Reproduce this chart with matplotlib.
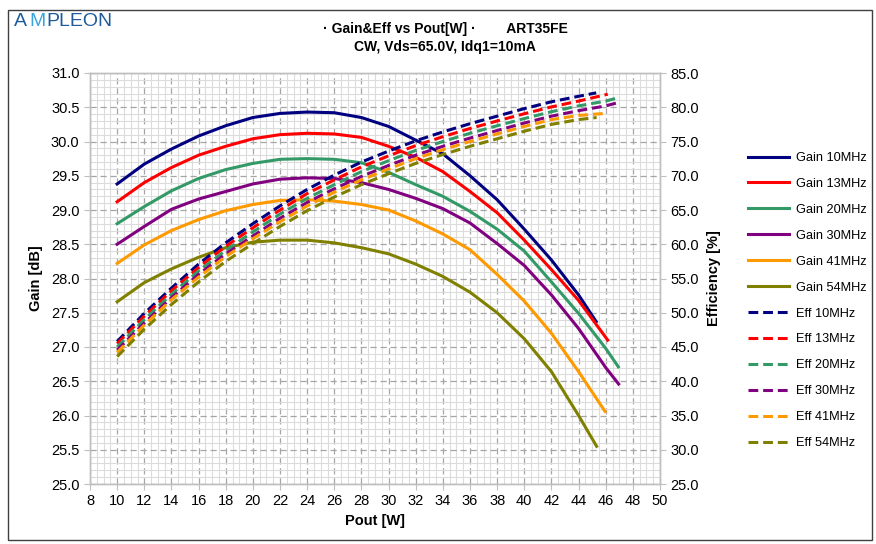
import numpy as np
import matplotlib.pyplot as plt
from matplotlib.patches import Rectangle
from matplotlib.ticker import MultipleLocator, FormatStrFormatter

plt.rcParams['font.family'] = ['Liberation Sans', 'DejaVu Sans']

# ---- data (Pout [W] vs Gain [dB] / Efficiency [%]) ----
pout_10 = [10, 12, 14, 16, 18, 20, 22, 24, 26, 28, 30, 32, 34, 36, 38, 40, 42, 44, 45.3]
gain_10 = [29.38, 29.67, 29.89, 30.08, 30.23, 30.35, 30.41, 30.43, 30.42, 30.35, 30.22, 30.02,
           29.82, 29.50, 29.15, 28.72, 28.27, 27.76, 27.37]
eff_10 = [45.8, 49.9, 53.6, 57.1, 60.2, 63.0, 65.6, 68.0, 70.1, 72.0, 73.6, 75.1,
          76.4, 77.6, 78.7, 79.8, 80.8, 81.6, 82.1]

pout_13 = [10, 12, 14, 16, 18, 20, 22, 24, 26, 28, 30, 32, 34, 36, 38, 40, 42, 44, 46.15]
gain_13 = [29.12, 29.40, 29.62, 29.80, 29.93, 30.04, 30.10, 30.12, 30.11, 30.06, 29.93, 29.77,
           29.56, 29.27, 28.96, 28.56, 28.13, 27.68, 27.10]
eff_13 = [45.5, 49.5, 53.2, 56.6, 59.7, 62.4, 65.0, 67.4, 69.4, 71.3, 72.9, 74.4,
          75.7, 76.9, 78.0, 79.05, 80.05, 80.9, 81.9]

pout_20 = [10, 12, 14, 16, 18, 20, 22, 24, 26, 28, 30, 32, 34, 36, 38, 40, 42, 44, 46, 46.93]
gain_20 = [28.80, 29.05, 29.28, 29.46, 29.59, 29.68, 29.74, 29.75, 29.74, 29.69, 29.55, 29.37,
           29.20, 28.98, 28.72, 28.40, 27.95, 27.49, 26.98, 26.71]
eff_20 = [45.0, 49.0, 52.7, 56.1, 59.1, 61.8, 64.4, 66.7, 68.7, 70.6, 72.2, 73.7,
          75.0, 76.2, 77.3, 78.35, 79.35, 80.2, 80.9, 81.4]

pout_30 = [10, 12, 14, 16, 18, 20, 22, 24, 26, 28, 30, 32, 34, 36, 38, 40, 42, 44, 46, 46.95]
gain_30 = [28.50, 28.76, 29.01, 29.16, 29.27, 29.38, 29.45, 29.47, 29.46, 29.40, 29.30, 29.17,
           29.02, 28.81, 28.51, 28.19, 27.76, 27.27, 26.70, 26.46]
eff_30 = [44.55, 48.5, 52.2, 55.6, 58.6, 61.2, 63.8, 66.1, 68.1, 69.9, 71.5, 73.0,
          74.3, 75.5, 76.6, 77.7, 78.7, 79.5, 80.2, 80.7]

pout_41 = [10, 12, 14, 16, 18, 20, 22, 24, 26, 28, 30, 32, 34, 36, 38, 40, 42, 44, 45.95]
gain_41 = [28.22, 28.49, 28.70, 28.86, 28.99, 29.08, 29.14, 29.15, 29.13, 29.08, 29.00, 28.84,
           28.65, 28.42, 28.06, 27.67, 27.20, 26.64, 26.06]
eff_41 = [44.2, 48.2, 51.9, 55.2, 58.2, 60.8, 63.3, 65.6, 67.6, 69.4, 71.0, 72.5,
          73.8, 75.0, 76.1, 77.2, 78.2, 78.8, 79.1]

pout_54 = [10, 12, 14, 16, 18, 20, 22, 24, 26, 28, 30, 32, 34, 36, 38, 40, 42, 44, 45.33]
gain_54 = [27.66, 27.94, 28.14, 28.31, 28.45, 28.53, 28.56, 28.56, 28.52, 28.45, 28.36, 28.21,
           28.03, 27.80, 27.50, 27.12, 26.64, 26.00, 25.55]
eff_54 = [43.6, 47.6, 51.2, 54.5, 57.5, 60.1, 62.6, 64.9, 66.9, 68.7, 70.3, 71.8,
          73.1, 74.3, 75.4, 76.5, 77.5, 78.2, 78.5]

freqs = ['10MHz', '13MHz', '20MHz', '30MHz', '41MHz', '54MHz']
colors = ['#000080', '#ff0000', '#339966', '#800080', '#ff9900', '#808000']
pouts = [pout_10, pout_13, pout_20, pout_30, pout_41, pout_54]
gains = [gain_10, gain_13, gain_20, gain_30, gain_41, gain_54]
effs = [eff_10, eff_13, eff_20, eff_30, eff_41, eff_54]

W, H = 876, 544
fig = plt.figure(figsize=(W / 100, H / 100), dpi=100)
fig.patch.set_facecolor('white')
ax = fig.add_axes([90 / W, (H - 484) / H, (660 - 90) / W, (484 - 73) / H])
ax2 = ax.twinx()

handles = []
for p, g, c, f in zip(pouts, gains, colors, freqs):
    h, = ax.plot(p, g, color=c, lw=2.2, label='Gain ' + f, zorder=3)
    handles.append(h)
for p, e, c, f in zip(pouts, effs, colors, freqs):
    h, = ax2.plot(p, e, color=c, lw=2.2, ls=(0, (3.2, 1.6)), label='Eff ' + f, zorder=3)
    handles.append(h)

ax.set_xlim(8, 50)
ax.set_ylim(25, 31)
ax2.set_ylim(25, 85)

ax.xaxis.set_major_locator(MultipleLocator(2))
ax.xaxis.set_minor_locator(MultipleLocator(0.5))
ax.yaxis.set_major_locator(MultipleLocator(0.5))
ax.yaxis.set_minor_locator(MultipleLocator(0.1))
ax.yaxis.set_major_formatter(FormatStrFormatter('%.1f'))
ax2.yaxis.set_major_locator(MultipleLocator(5))
ax2.yaxis.set_major_formatter(FormatStrFormatter('%.1f'))

ax.grid(which='minor', color='#dcdcdc', lw=0.8, ls='-')
ax.grid(which='major', color='#a6a6a6', lw=0.9, ls=(0, (5, 3)))
ax.set_axisbelow(True)

for a in (ax, ax2):
    for s in a.spines.values():
        s.set_color('#bfbfbf')
        s.set_linewidth(1.0)
    a.tick_params(which='major', length=4, color='#bfbfbf', labelsize=10.5, colors='black')
    a.tick_params(which='minor', length=0)
    for lab in a.get_yticklabels() + a.get_xticklabels():
        lab.set_color('black')

ax.set_xlabel('Pout [W]', fontsize=10.5, fontweight='bold', labelpad=4)
ax.set_ylabel('Gain [dB]', fontsize=10.5, fontweight='bold', labelpad=6)
ax2.set_ylabel('Efficiency [%]', fontsize=10.5, fontweight='bold', labelpad=6)

fig.legend(handles=handles, loc='upper left', bbox_to_anchor=(748 / W, 1 - 152 / H),
           frameon=False, fontsize=9.2, handlelength=3.2, handletextpad=0.55,
           labelspacing=1.09, borderaxespad=0, borderpad=0)

fig.text(445 / W, 1 - 29 / H, '\u00b7 Gain&Eff vs Pout[W] \u00b7        ART35FE',
         ha='center', va='center', fontsize=10, fontweight='bold')
fig.text(445 / W, 1 - 47 / H, 'CW, Vds=65.0V, Idq1=10mA',
         ha='center', va='center', fontsize=10, fontweight='bold')

# logo
logo_y = 1 - 21 / H
fig.text(14 / W, logo_y, 'A', color='#1f5b9a', fontsize=14, va='center', ha='left')
fig.text(29 / W, logo_y, 'M', color='#39a4dc', fontsize=14, va='center', ha='left')
fig.text(46 / W, logo_y, 'PLEON', color='#1f5b9a', fontsize=14, va='center', ha='left')

fig.patches.append(Rectangle((8 / W, 4 / H), (W - 12) / W, (H - 14) / H,
                             transform=fig.transFigure, fill=False,
                             edgecolor='#404040', lw=1.0))

fig.savefig('out.png', dpi=100)
